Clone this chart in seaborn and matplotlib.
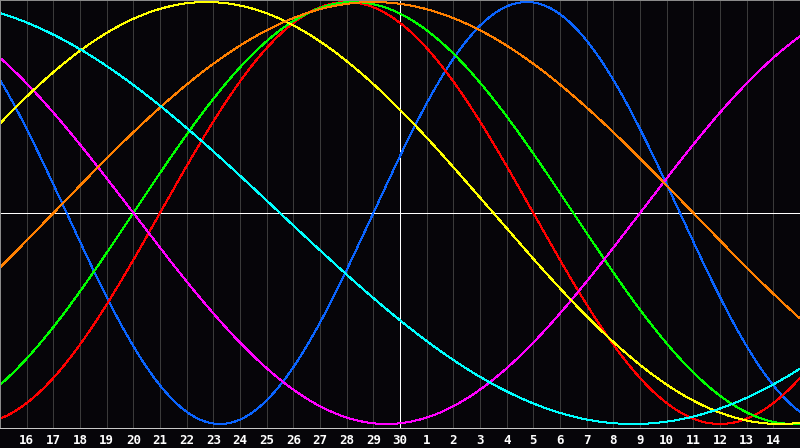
import numpy as np
import pandas as pd
import matplotlib
matplotlib.use("Agg")
import matplotlib.pyplot as plt
import seaborn as sns

# biorhythm cycles: period in days and position in the cycle on the centre day (30)
cycle_names = ["Physical", "Emotional", "Intellectual", "Intuitive", "Aesthetic", "Awareness", "Spiritual"]
cycle_periods = [23, 28, 33, 38, 43, 48, 53]
cycle_day_today = [1, 9, 10, 29, 18, 13, 31]
cycle_colors = ["#0a64ff", "#ff0000", "#00ff00", "#ff00ff", "#ffff00", "#ff8000", "#00ffff"]

# days shown along the bottom (day 15 sits on the left edge, 30 in the centre)
day_labels = [16, 17, 18, 19, 20, 21, 22, 23, 24, 25, 26, 27, 28, 29, 30,
              1, 2, 3, 4, 5, 6, 7, 8, 9, 10, 11, 12, 13, 14]
centre_index = 15

bg = "#060509"
sns.set_theme(style="dark", rc={"axes.facecolor": bg, "figure.facecolor": bg})
plt.rcParams["font.family"] = ["DejaVu Sans Mono", "DejaVu Sans"]

t = np.linspace(0, 30, 1201)
rows = []
for name, period, today in zip(cycle_names, cycle_periods, cycle_day_today):
    vals = np.sin(2 * np.pi * (today + t - centre_index) / period)
    rows.append(pd.DataFrame({"day": t, "value": vals, "cycle": name}))
df = pd.concat(rows, ignore_index=True)

fig = plt.figure(figsize=(8, 4.48), dpi=100)
ax = fig.add_axes([0, 20 / 448, 1, 428 / 448])

px = 0.72  # one pixel at 100 dpi
ax.set_xticks(range(1, 30))
ax.set_xticklabels([str(d) for d in day_labels])
ax.grid(axis="x", color="#3a3a3a", linewidth=px)
ax.grid(axis="y", visible=False)
ax.axhline(0, color="white", linewidth=px, zorder=1.5, antialiased=False)
ax.axvline(centre_index, color="white", linewidth=px, zorder=1.5, antialiased=False)

sns.lineplot(data=df, x="day", y="value", hue="cycle", hue_order=cycle_names,
             palette=cycle_colors, linewidth=px, legend=False, ax=ax,
             antialiased=False, estimator=None, sort=False)

ax.set_xlim(0, 30)
ax.set_ylim(-1.019, 1.0095)
ax.set_yticks([])
ax.set_xlabel("")
ax.set_ylabel("")
ax.tick_params(axis="x", length=0, pad=4, labelsize=9, labelcolor="white")
for lab in ax.get_xticklabels():
    lab.set_fontweight("bold")
for side, spine in ax.spines.items():
    spine.set_visible(True)
    spine.set_color("#8a8a8a" if side != "bottom" else "#c8c8c8")
    spine.set_linewidth(px)

fig.savefig("out.png", dpi=100, facecolor=bg)
